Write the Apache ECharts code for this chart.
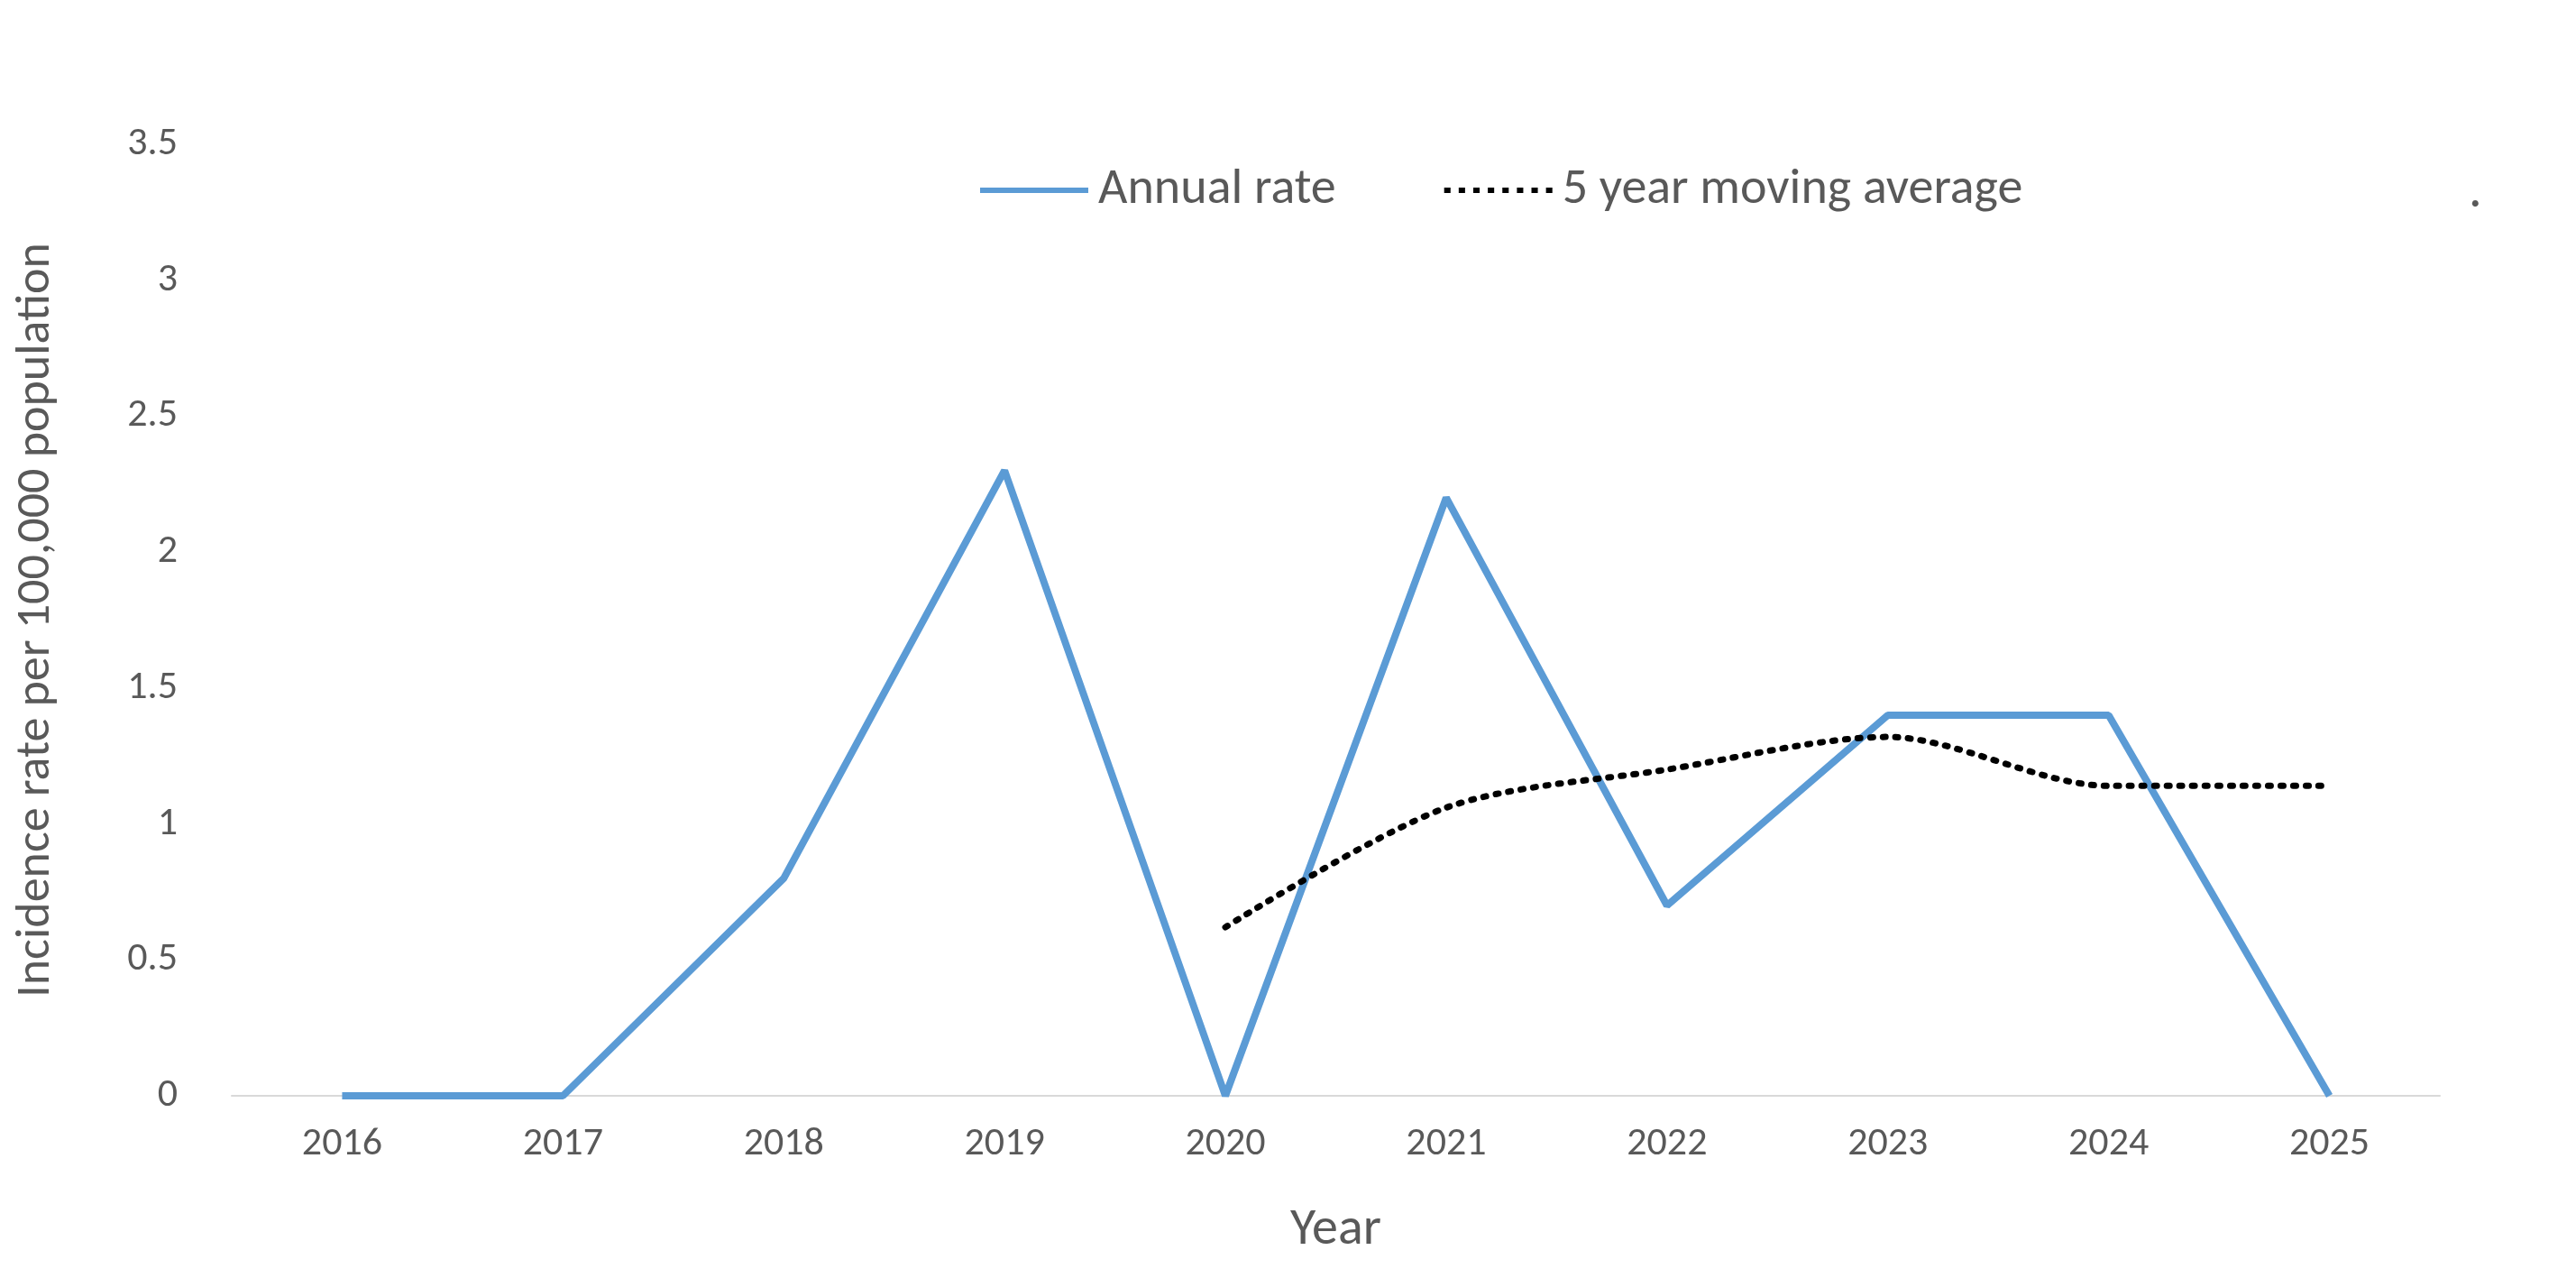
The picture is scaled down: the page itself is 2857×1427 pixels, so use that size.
<!DOCTYPE html>
<html><head><meta charset="utf-8">
<script src="https://cdn.jsdelivr.net/npm/echarts@6/dist/echarts.min.js"></script>
<style>html,body{margin:0;padding:0;background:#fff}#c{width:2857px;height:1427px}</style>
</head><body><div id="c"></div>
<script>
const years = ['2016','2017','2018','2019','2020','2021','2022','2023','2024','2025'];
const annualRate = [0, 0, 0.8, 2.3, 0, 2.2, 0.7, 1.4, 1.4, 0];
const movingAvg = [null, null, null, null, 0.62, 1.06, 1.2, 1.32, 1.14, 1.14];
const ff = 'Calibri, Carlito, "Open Sans", "Noto Sans", sans-serif';
const chart = echarts.init(document.getElementById('c'));
chart.setOption({
  animation: false,
  textStyle: {fontFamily: ff},
  grid: {left: 257, right: 151, top: 160, bottom: 212},
  legend: {
    top: 178, left: 1082, itemGap: 120, itemWidth: 120, itemHeight: 20,
    textStyle: {fontSize: 56, color: '#595959', fontFamily: ff, padding: [0, 0, 0, 6]},
    data: [
      {name: 'Annual rate', icon: 'path://M0,7 L120,7 L120,13 L0,13 Z'},
      {name: '5 year moving average', icon: 'path://M0,7 L7,7 L7,13 L0,13 Z M16,7 L23,7 L23,13 L16,13 Z M32,7 L39,7 L39,13 L32,13 Z M48,7 L55,7 L55,13 L48,13 Z M64,7 L71,7 L71,13 L64,13 Z M80,7 L87,7 L87,13 L80,13 Z M96,7 L103,7 L103,13 L96,13 Z M112,7 L119,7 L119,13 L112,13 Z'}
    ]
  },
  graphic: [{type: 'text', left: 2738, top: 185, style: {text: '.', fontSize: 58, fill: '#595959', fontFamily: ff}}],
  xAxis: {
    type: 'category', data: years, boundaryGap: true,
    name: 'Year', nameLocation: 'middle', nameGap: 120,
    nameTextStyle: {fontSize: 58, color: '#595959', fontFamily: ff},
    axisLine: {lineStyle: {color: '#d9d9d9', width: 2}},
    axisTick: {show: false},
    axisLabel: {fontSize: 44, color: '#595959', margin: 32, fontFamily: ff}
  },
  yAxis: {
    type: 'value', min: 0, max: 3.5, interval: 0.5,
    name: 'Incidence rate per 100,000 population', nameLocation: 'middle', nameGap: 190,
    nameTextStyle: {fontSize: 54, color: '#595959', fontFamily: ff},
    splitLine: {show: false}, axisLine: {show: false}, axisTick: {show: false},
    axisLabel: {fontSize: 44, color: '#595959', margin: 60, fontFamily: ff}
  },
  series: [
    {name: 'Annual rate', type: 'line', data: annualRate, symbol: 'none',
     lineStyle: {color: '#5b9bd5', width: 8}, itemStyle: {color: '#5b9bd5'}},
    {name: '5 year moving average', type: 'line', data: movingAvg, symbol: 'none', smooth: 0.3,
     lineStyle: {color: '#000', width: 7, type: [3, 11], cap: 'round'}, itemStyle: {color: '#000'}}
  ]
});
</script></body></html>
